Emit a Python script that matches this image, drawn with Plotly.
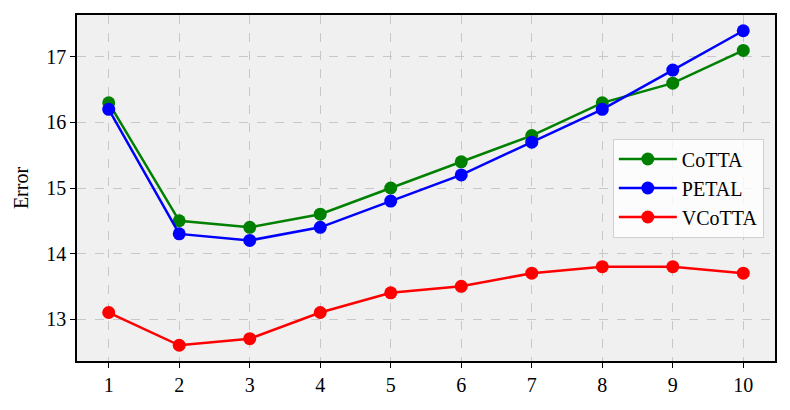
import plotly.graph_objects as go

x_vals = [1, 2, 3, 4, 5, 6, 7, 8, 9, 10]
cotta = [16.3, 14.5, 14.4, 14.6, 15.0, 15.4, 15.8, 16.3, 16.6, 17.1]
petal = [16.2, 14.3, 14.2, 14.4, 14.8, 15.2, 15.7, 16.2, 16.8, 17.4]
vcotta = [13.1, 12.6, 12.7, 13.1, 13.4, 13.5, 13.7, 13.8, 13.8, 13.7]

series = [("CoTTA", cotta, "#008000"), ("PETAL", petal, "#0000ff"), ("VCoTTA", vcotta, "#ff0000")]

fig = go.Figure()
for name, vals, col in series:
    fig.add_trace(go.Scatter(x=x_vals, y=vals, name=name, mode="lines+markers",
                             line=dict(color=col, width=2.5),
                             marker=dict(color=col, size=13)))

font = dict(family="Liberation Serif", size=20, color="black")
axis_common = dict(showline=True, linecolor="black", linewidth=1.5, mirror=True,
                   ticks="outside", ticklen=5, tickwidth=1.2, tickcolor="black",
                   showgrid=True, gridcolor="#c8c8c8", gridwidth=1, griddash="dash",
                   zeroline=False, tickfont=font, automargin=False)

# page body has an 8px margin, so the figure is 8px smaller and left/top margins shifted
fig.update_layout(
    width=782, height=402,
    margin=dict(l=69, r=15, t=7, b=49),
    paper_bgcolor="white", plot_bgcolor="#f0f0f0",
    font=font,
    showlegend=True,
    legend=dict(x=0.984, y=0.5, xanchor="right", yanchor="middle",
                bgcolor="rgba(255,255,255,0.8)", bordercolor="#d0d0d0", borderwidth=1,
                font=font, itemwidth=58, tracegroupgap=0),
)
fig.update_xaxes(range=[0.55, 10.45], tickvals=x_vals, ticktext=[str(v) for v in x_vals], **axis_common)
fig.update_yaxes(range=[12.36, 17.64], tickvals=[13, 14, 15, 16, 17],
                 title=dict(text="Error", font=font, standoff=12), **axis_common)

fig.write_html("out.html")
